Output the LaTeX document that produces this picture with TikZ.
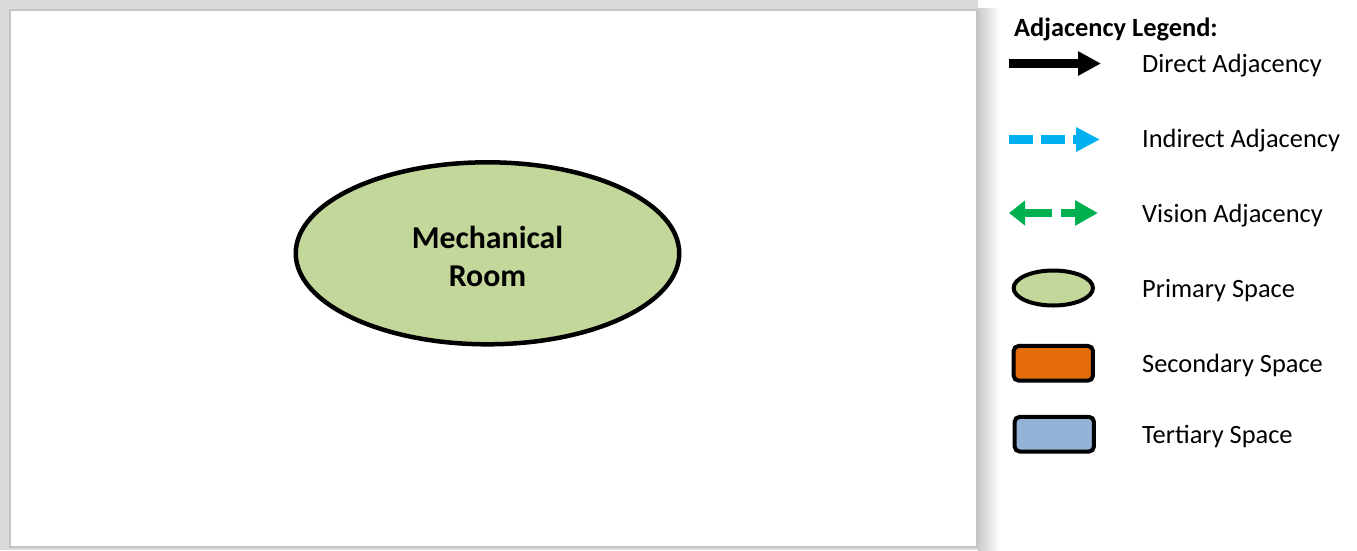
\documentclass[tikz,border=0pt]{standalone}
\usepackage{fontspec}
\setmainfont{Carlito}
\usetikzlibrary{shapes.geometric,arrows.meta}
\definecolor{primgreen}{HTML}{C4D79B}
\definecolor{secorange}{HTML}{E46C0A}
\definecolor{terblue}{HTML}{95B3D7}
\definecolor{indblue}{HTML}{00B0F0}
\definecolor{visgreen}{HTML}{00B050}
\definecolor{framegray}{HTML}{C4C4C4}
\definecolor{bandgray}{HTML}{DADADA}
\tikzset{
  primary/.style={ellipse,draw=black,fill=primgreen,line width=4pt,inner sep=0pt},
  spacebox/.style={rectangle,rounded corners=5pt,draw=black,line width=4pt,inner sep=0pt,minimum width=79.3pt,minimum height=34.7pt},
  legtext/.style={anchor=base west,inner sep=0pt,font=\fontsize{26.4}{31}\selectfont},
  legtitle/.style={anchor=base west,inner sep=0pt,font=\bfseries\fontsize{26.4}{31}\selectfont},
  roomtext/.style={align=center,font=\bfseries\fontsize{31.8}{38}\selectfont}
}
\begin{document}
\begin{tikzpicture}[x=1pt,y=-1pt]
\useasboundingbox (0,0) rectangle (1357,550);
% frame with shadow
\fill[bandgray] (0,0) rectangle (978,550);
\shade[left color=framegray!90,right color=white] (978,8) rectangle (1000,550);
\fill[white] (10,10) rectangle (977,547);
\draw[framegray,line width=1.5pt] (10,10) rectangle (977,547);
% main room
\node[primary,line width=4.5pt,minimum width=383.5pt,minimum height=182pt] (mech) at (487.5,253.3) {};
\node[roomtext] (mechlabel) at (487.5,256) {Mechanical\\Room};
% legend
\node[legtitle] (title) at (1014,36) {Adjacency Legend:};
\coordinate (da) at (1009,63.5);
\coordinate (db) at (1101,63.5);
\draw[line width=8.5pt,-{Triangle[length=23pt,width=23pt]}] (da) -- (db);
\node[legtext] (dtext) at (1142,72.5) {Direct Adjacency};
\coordinate (ia) at (1009,139.5);
\coordinate (ib) at (1100,139.5);
\draw[indblue,line width=9pt,dash pattern=on 24pt off 8pt,-{Triangle[length=24pt,width=23pt]}] (ia) -- (ib);
\node[legtext] (itext) at (1142,147.5) {Indirect Adjacency};
\coordinate (va) at (1009,213);
\coordinate (vb) at (1098,213);
\draw[visgreen,line width=8.5pt,dash pattern=on 28pt off 9pt,{Triangle[length=16pt,width=24pt]}-{Triangle[length=23pt,width=24pt]}] (va) -- (vb);
\node[legtext] (vtext) at (1142,222) {Vision Adjacency};
\node[primary,minimum width=79.3pt,minimum height=35pt] (pshape) at (1053.3,288) {};
\node[legtext] (ptext) at (1142,297) {Primary Space};
\node[spacebox,fill=secorange] (sshape) at (1053.3,363.3) {};
\node[legtext] (stext) at (1142,372) {Secondary Space};
\node[spacebox,fill=terblue] (tshape) at (1054.3,434.2) {};
\node[legtext] (ttext) at (1142,443.5) {Tertiary Space};
\end{tikzpicture}
\end{document}
